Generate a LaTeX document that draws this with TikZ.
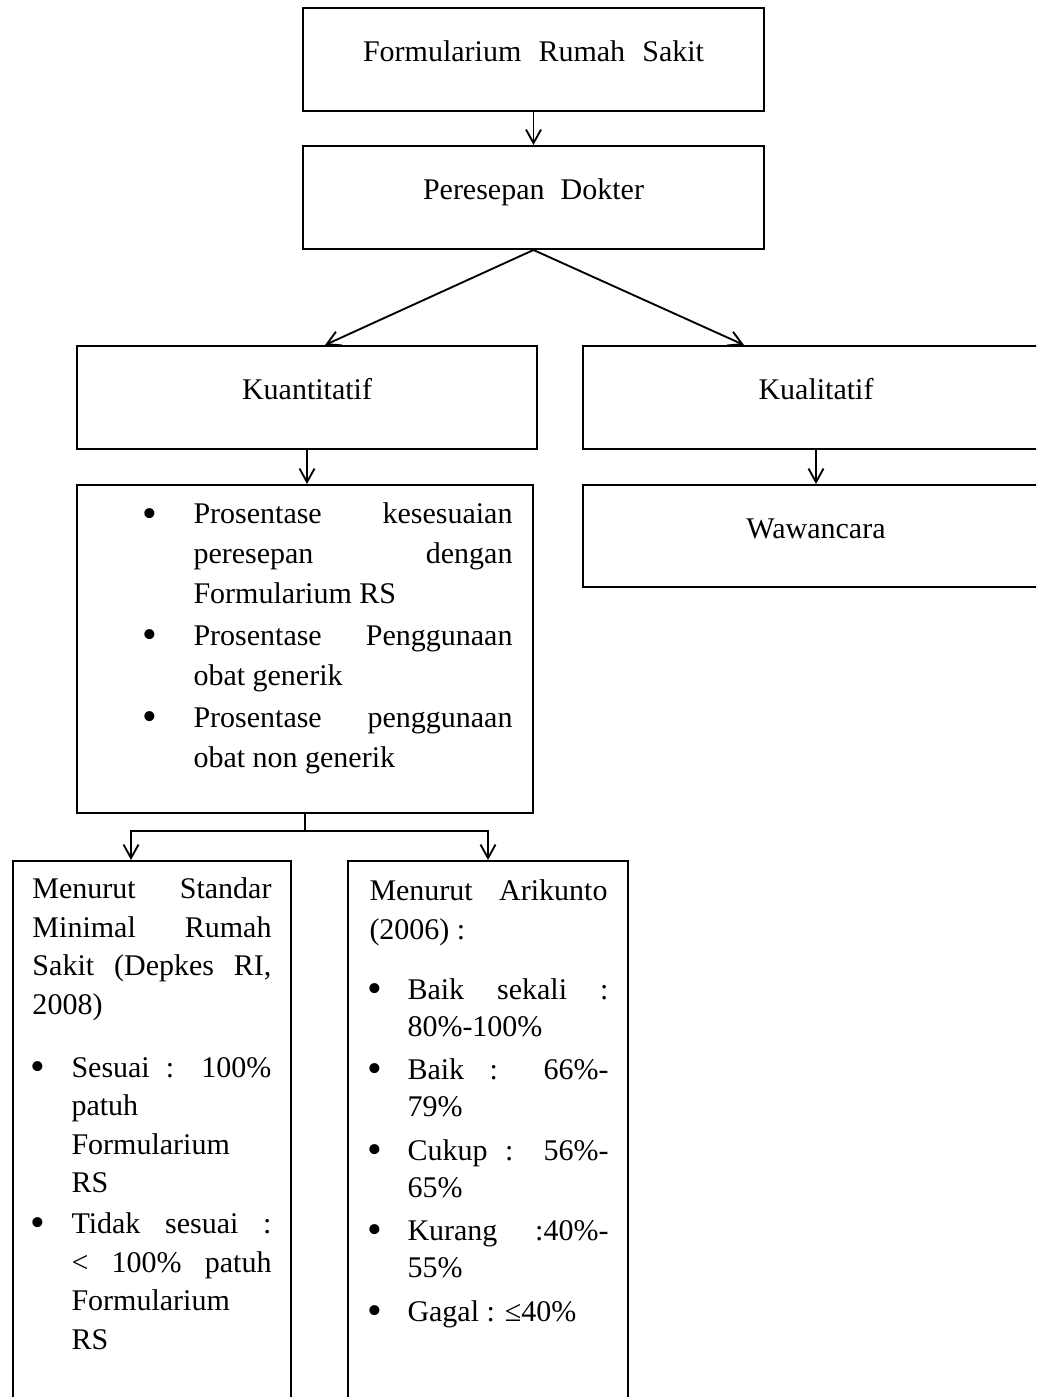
\documentclass[tikz,border=0pt]{standalone}
\usepackage{fontspec}
\setmainfont{Liberation Serif}
\usetikzlibrary{positioning,arrows.meta}
\newcommand{\jline}[2]{\makebox[#1][s]{#2}}
\newcommand{\bul}[1]{\llap{\raisebox{-1.2pt}{\scalebox{1.4}{\textbullet}}\hspace{#1}}}

\begin{document}
\begin{tikzpicture}[x=0.4pt, y=-0.4pt, >={Straight Barb[length=5.4pt,width=6pt]},
  font=\fontsize{12}{15.4}\selectfont,
  box/.style={draw, line width=0.8pt, minimum height=41.2pt, text height=8pt, text depth=6.4pt, inner sep=0pt},
  tall/.style={draw, line width=0.8pt, anchor=north west, minimum height=224pt},
  txt/.style={anchor=base west, align=left, inner sep=0pt},
  arr/.style={->, line width=0.75pt}]
  \path[use as bounding box, clip] (0,0) rectangle (1036,1397);
  \node[box, minimum width=184.4pt] (frs) at (533.5,59.5) {\jline{136.4pt}{Formularium Rumah Sakit}};
  \node[box, minimum width=184.4pt, below=13.2pt of frs] (resep) {\jline{88.4pt}{Peresepan Dokter}};
  \node[box, minimum width=184pt, anchor=north west] (kuan) at (76,345) {Kuantitatif};
  \node[box, minimum width=186.4pt, anchor=north west] (kual) at (582,345) {Kualitatif};
  \node[draw, line width=0.8pt, minimum width=182.4pt, minimum height=131.2pt, below=13.6pt of kuan.south west, anchor=north west] (daftar) {};
  \node[box, minimum width=186.4pt, minimum height=40.8pt, below=13.6pt of kual] (waw) {Wawancara};
  \node[tall, minimum width=111.2pt] (std) at (12,860) {};
  \node[tall, minimum width=112pt] (arik) at (347,860) {};
  % isi kotak (jangkar = garis dasar baris terakhir)
  \node[txt] (daftartxt) at (193,767) {\bul{14.4pt}\jline{127.6pt}{Prosentase kesesuaian}\\[0.4pt]
    \jline{127.6pt}{peresepan dengan}\\[0.4pt]
    Formularium RS\\[1.6pt]
    \bul{14.4pt}\jline{127.6pt}{Prosentase Penggunaan}\\[0.4pt]
    obat generik\\[1.6pt]
    \bul{14.4pt}\jline{127.6pt}{Prosentase penggunaan}\\[0.4pt]
    obat non generik};
  \node[txt] (stdhead) at (32,1014) {\jline{95.6pt}{Menurut Standar}\\
    \jline{95.6pt}{Minimal Rumah}\\
    \jline{95.6pt}{Sakit (Depkes RI,}\\
    2008)};
  \node[txt] (stdlist) at (71,1349) {\bul{10.4pt}\jline{80pt}{Sesuai : 100\%}\\
    patuh\\
    Formularium\\
    RS\\[1pt]
    \bul{10.4pt}\jline{80pt}{Tidak sesuai :}\\
    \jline{80pt}{< 100\% patuh}\\
    Formularium\\
    RS};
  \node[txt] (arikhead) at (369,939) {\jline{95.2pt}{Menurut Arikunto}\\
    (2006) :};
  \node[txt, font=\fontsize{12}{14.9}\selectfont] (ariklist) at (407,1321) {\bul{10pt}\jline{80.4pt}{Baik sekali :}\\
    80\%-100\%\\[2.4pt]
    \bul{10pt}\jline{80.4pt}{Baik : 66\%-}\\
    79\%\\[2.4pt]
    \bul{10pt}\jline{80.4pt}{Cukup : 56\%-}\\
    65\%\\[2.4pt]
    \bul{10pt}\jline{80.4pt}{Kurang :40\%-}\\
    55\%\\[2.4pt]
    \bul{10pt}Gagal : ≤40\%};
  % panah
  \draw[arr] (frs) -- (resep);
  \draw[arr] (resep.south) -- ([xshift=7.2pt]kuan.north);
  \draw[arr] (resep.south) -- ([xshift=-28.8pt]kual.north);
  \draw[arr] (kuan.south) -- (kuan.south |- daftar.north);
  \draw[arr] (kual) -- (waw);
  \draw[line width=0.75pt] (daftar.south) -- ++(0,17) coordinate (cabang);
  \draw[arr] (cabang) -| ([xshift=-8.4pt]std.north);
  \draw[arr] (cabang) -| (arik.north);
\end{tikzpicture}
\end{document}
